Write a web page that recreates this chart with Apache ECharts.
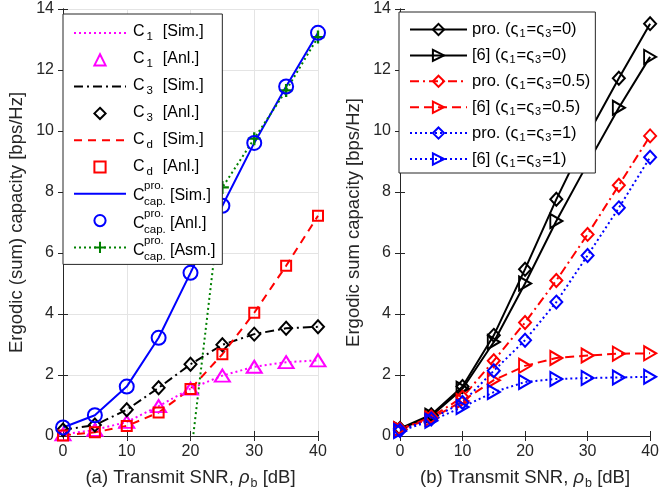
<!DOCTYPE html>
<html><head><meta charset="utf-8">
<script src="https://cdn.jsdelivr.net/npm/echarts@6/dist/echarts.min.js"></script>
<style>html,body{margin:0;padding:0;background:#fff}#c{width:662px;height:495px}</style>
</head><body><div id="c"></div>
<script>
// ---- data ----
var snr = [0, 5, 10, 15, 20, 25, 30, 35, 40];
var yTicks = [0, 2, 4, 6, 8, 10, 12, 14];
// panel (a)
var c1 = [0.05, 0.2, 0.46, 0.98, 1.55, 1.98, 2.27, 2.42, 2.48];
var c3 = [0.2, 0.36, 0.86, 1.58, 2.35, 2.99, 3.34, 3.53, 3.58];
var cd = [0.02, 0.12, 0.33, 0.77, 1.54, 2.68, 4.04, 5.58, 7.22];
var ccap = [0.28, 0.68, 1.62, 3.22, 5.35, 7.55, 9.61, 11.46, 13.22];
var casm = [null, null, null, null, -0.75, 8.15, 9.75, 11.33, 13.08];
// panel (b)
var pro0 = [0.25, 0.7, 1.62, 3.3, 5.47, 7.76, 9.86, 11.73, 13.52];
var ref0 = [0.22, 0.66, 1.55, 3.08, 5.0, 7.05, 8.93, 10.76, 12.43];
var pro05 = [0.22, 0.62, 1.27, 2.47, 3.72, 5.1, 6.61, 8.22, 9.84];
var ref05 = [0.22, 0.57, 1.15, 1.83, 2.3, 2.56, 2.64, 2.7, 2.71];
var pro1 = [0.18, 0.56, 1.1, 2.14, 3.14, 4.39, 5.92, 7.48, 9.14];
var ref1 = [0.16, 0.5, 0.95, 1.44, 1.77, 1.87, 1.9, 1.92, 1.94];

function pairs(ys) { return snr.map(function (x, i) { return [x, ys[i]]; }); }

var TXT = '#262626';
var FONT = 'Liberation Sans';
var CLEAR = 'rgba(0,0,0,0)';
var plus = 'path://M4.1,0h1.8v10h-1.8z M0,4.1h10v1.8h-10z';

function xAx(grid, name) {
  return [{
    type: 'value', gridIndex: grid, min: 0, max: 40, interval: 10,
    axisLine: { lineStyle: { color: TXT, width: 1 } },
    axisTick: { inside: true, length: 5, lineStyle: { color: TXT } },
    axisLabel: { color: TXT, fontSize: 16, fontFamily: FONT, margin: 8 },
    splitLine: { show: grid === 0, lineStyle: { color: '#e4e4e4', width: 1 } },
    name: name, nameLocation: 'middle', nameGap: 30,
    nameTextStyle: {
      color: TXT, fontSize: 18.5, fontFamily: FONT,
      rich: {
        i: { fontSize: 18.5, fontStyle: 'italic', fontFamily: FONT, color: TXT },
        s: { fontSize: 12.5, fontFamily: FONT, color: TXT, padding: [11, 0, 0, 1] }
      }
    }
  }, {
    type: 'value', gridIndex: grid, min: 0, max: 40, interval: 10, position: 'top',
    axisLine: { lineStyle: { color: TXT, width: 1 } },
    axisTick: { inside: true, length: 5, lineStyle: { color: TXT } },
    axisLabel: { show: false }, splitLine: { show: false }
  }];
}
function yAx(grid, name) {
  return [{
    type: 'value', gridIndex: grid, min: 0, max: 14, interval: 2,
    axisLine: { show: true, lineStyle: { color: TXT, width: 1 } },
    axisTick: { show: true, inside: true, length: 5, lineStyle: { color: TXT } },
    axisLabel: { color: TXT, fontSize: 16, fontFamily: FONT, margin: 9 },
    splitLine: { show: grid === 0, lineStyle: { color: '#e4e4e4', width: 1 } },
    name: name, nameLocation: 'middle', nameGap: 37,
    nameTextStyle: { color: TXT, fontSize: 18.5, fontFamily: FONT }
  }, {
    type: 'value', gridIndex: grid, min: 0, max: 14, interval: 2, position: 'right',
    axisLine: { show: true, lineStyle: { color: TXT, width: 1 } },
    axisTick: { show: true, inside: true, length: 5, lineStyle: { color: TXT } },
    axisLabel: { show: false }, splitLine: { show: false }
  }];
}

var xAxes = xAx(0, '(a) Transmit SNR, {i|ρ}{s|b} [dB]').concat(xAx(1, '(b) Transmit SNR, {i|ρ}{s|b} [dB]'));
var yAxes = yAx(0, 'Ergodic (sum) capacity [bps/Hz]').concat(yAx(1, 'Ergodic sum capacity [bps/Hz]'));

function lineS(name, ys, color, type, width) {
  return {
    name: name, type: 'line', xAxisIndex: 0, yAxisIndex: 0, data: pairs(ys),
    symbol: 'circle', showSymbol: false, lineStyle: { color: color, type: type, width: width },
    itemStyle: { color: CLEAR, borderColor: CLEAR, borderWidth: 0 }, z: 3, animation: false
  };
}
function markS(name, ys, color, symbol, size, rot) {
  return {
    name: name, type: 'line', xAxisIndex: 0, yAxisIndex: 0, data: pairs(ys),
    symbol: symbol, symbolSize: size, symbolRotate: rot || 0, showAllSymbol: true,
    lineStyle: { color: CLEAR, width: 1 },
    itemStyle: { color: CLEAR, borderColor: color, borderWidth: 2 }, z: 4, animation: false
  };
}
function comboS(name, ys, color, type, symbol, size, rot) {
  return {
    name: name, type: 'line', xAxisIndex: 2, yAxisIndex: 2, data: pairs(ys),
    symbol: symbol, symbolSize: size, symbolRotate: rot || 0, showAllSymbol: true,
    lineStyle: { color: color, type: type, width: 2 },
    itemStyle: { color: CLEAR, borderColor: color, borderWidth: 2 }, z: 3, animation: false
  };
}

var dashDot = [9, 4, 2, 4];
var series = [
  lineS('C1s', c1, '#ff00ff', [2, 3], 2),
  markS('C1a', c1, '#ff00ff', 'triangle', [15, 12]),
  lineS('C3s', c3, '#000000', dashDot, 2),
  markS('C3a', c3, '#000000', 'diamond', [12, 13]),
  lineS('Cds', cd, '#ff0000', [8, 6], 2),
  markS('Cda', cd, '#ff0000', 'rect', [10, 10]),
  lineS('Ccs', ccap, '#0000ff', 'solid', 2),
  markS('Cca', ccap, '#0000ff', 'circle', [14, 14]),
  {
    name: 'Ccm', type: 'line', xAxisIndex: 0, yAxisIndex: 0, data: pairs(casm),
    symbol: plus, symbolSize: 13, showAllSymbol: true, connectNulls: false,
    lineStyle: { color: '#008000', type: [2, 3], width: 2 },
    itemStyle: { color: '#008000' }, z: 3, animation: false
  },
  comboS('p0', pro0, '#000000', 'solid', 'diamond', [12, 13]),
  comboS('r0', ref0, '#000000', 'solid', 'triangle', [14, 12], -90),
  comboS('p05', pro05, '#ff0000', dashDot, 'diamond', [12, 13]),
  comboS('r05', ref05, '#ff0000', [9, 5], 'triangle', [14, 12], -90),
  comboS('p1', pro1, '#0000ff', [2, 3], 'diamond', [12, 13]),
  comboS('r1', ref1, '#0000ff', [2, 3], 'triangle', [14, 12], -90)
];

var rightLabels = {
  p0: 'pro. (ς{s|1}=ς{s|3}=0)',
  r0: '[6] (ς{s|1}=ς{s|3}=0)',
  p05: 'pro. (ς{s|1}=ς{s|3}=0.5)',
  r05: '[6] (ς{s|1}=ς{s|3}=0.5)',
  p1: 'pro. (ς{s|1}=ς{s|3}=1)',
  r1: '[6] (ς{s|1}=ς{s|3}=1)'
};

// left legend labels (drawn as text; C^{pro.}_{cap.} needs stacked scripts)
var leftLabelsY = [28, 55, 82, 109, 136, 163, 191, 219, 246];
var leftLabels = [
  ['1', '[Sim.]'], ['1', '[Anl.]'], ['3', '[Sim.]'], ['3', '[Anl.]'],
  ['d', '[Sim.]'], ['d', '[Anl.]'], ['cap', '[Sim.]'], ['cap', '[Anl.]'], ['cap', '[Asm.]']
];
var graphics = [];
leftLabels.forEach(function (l, i) {
  var y = leftLabelsY[i];
  if (l[0] !== 'cap') {
    graphics.push({ type: 'text', left: 133, top: y - 4, z: 100,
      style: { text: 'C{s|' + l[0] + '}  ' + l[1], fill: '#000', font: '16px ' + FONT,
        rich: { s: { fontSize: 11.5, fontFamily: FONT, fill: '#000', padding: [9, 1, 0, 2] } } } });
  } else {
    graphics.push({ type: 'text', left: 133, top: y - 3, z: 100,
      style: { text: 'C', fill: '#000', font: '16px ' + FONT } });
    graphics.push({ type: 'text', left: 144, top: y - 11, z: 100,
      style: { text: 'pro.', fill: '#000', font: '11.5px ' + FONT } });
    graphics.push({ type: 'text', left: 144, top: y + 5, z: 100,
      style: { text: 'cap.', fill: '#000', font: '11.5px ' + FONT } });
    graphics.push({ type: 'text', left: 170, top: y - 3, z: 100,
      style: { text: l[1], fill: '#000', font: '16px ' + FONT } });
  }
});

var hideSym = { opacity: 0 };
var option = {
  backgroundColor: '#ffffff',
  animation: false,
  grid: [
    { left: 63, right: 344, top: 9, bottom: 59 },
    { left: 400, right: 7, top: 9, bottom: 59 }
  ],
  xAxis: xAxes,
  yAxis: yAxes,
  legend: [{
    data: [{ name: 'C1s', itemStyle: hideSym }, 'C1a', { name: 'C3s', itemStyle: hideSym }, 'C3a',
      { name: 'Cds', itemStyle: hideSym }, 'Cda', { name: 'Ccs', itemStyle: hideSym }, 'Cca', 'Ccm'],
    orient: 'vertical', left: 63, top: 14, itemWidth: 52, itemHeight: 14, itemGap: 14.2,
    padding: [13, 88, 11, 10], backgroundColor: '#ffffff', borderColor: '#262626', borderWidth: 1,
    formatter: function () { return ' '; },
    textStyle: { fontSize: 12 },
    selectedMode: false, z: 50
  }, {
    data: ['p0', 'r0', 'p05', 'r05', 'p1', 'r1'],
    orient: 'vertical', left: 399, top: 12, itemWidth: 57, itemHeight: 14, itemGap: 7.4,
    padding: [9, 5, 4, 10], backgroundColor: '#ffffff', borderColor: '#262626', borderWidth: 1,
    formatter: function (n) { return rightLabels[n]; },
    textStyle: {
      color: '#000', fontSize: 16.5, fontFamily: FONT, lineHeight: 16,
      rich: {
        s: { fontSize: 11, fontFamily: FONT, color: '#000', padding: [9, 1, 0, 1] }
      }
    },
    selectedMode: false, z: 50
  }],
  graphic: graphics,
  series: series
};
var chart = echarts.init(document.getElementById('c'), null, { renderer: 'canvas' });
chart.setOption(option);
</script></body></html>
